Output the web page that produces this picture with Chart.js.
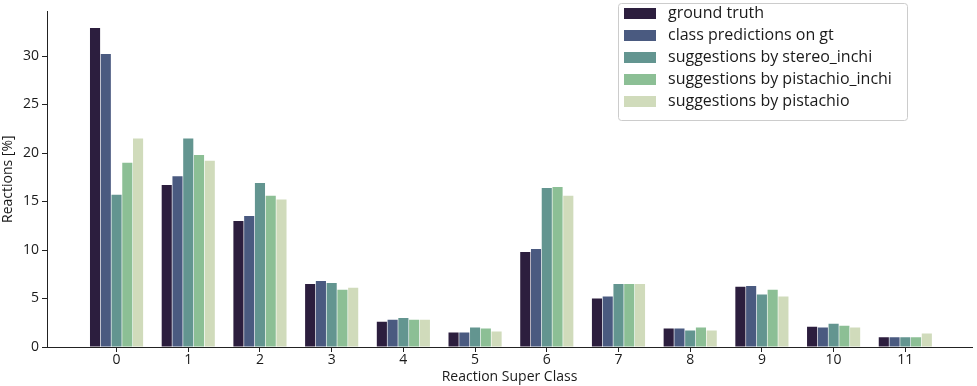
<!DOCTYPE html>
<html>
<head>
<meta charset="utf-8">
<script src="https://cdn.jsdelivr.net/npm/chart.js@4/dist/chart.umd.min.js"></script>
<style>
  html, body { margin: 0; padding: 0; background: #fff; }
  #wrap { width: 977px; height: 386px; }
</style>
</head>
<body>
<div id="wrap"><canvas id="chart"></canvas></div>
<script>
const classes = [0, 1, 2, 3, 4, 5, 6, 7, 8, 9, 10, 11];
const yTicks = [0, 5, 10, 15, 20, 25, 30];

const groundTruth    = [32.9, 16.7, 13.0, 6.5, 2.6, 1.5, 9.8, 5.0, 1.9, 6.2, 2.1, 1.0];
const classPred      = [30.2, 17.6, 13.5, 6.8, 2.8, 1.5, 10.1, 5.2, 1.9, 6.3, 2.0, 1.0];
const stereoInchi    = [15.7, 21.5, 16.9, 6.6, 3.0, 2.0, 16.4, 6.5, 1.7, 5.4, 2.4, 1.0];
const pistachioInchi = [19.0, 19.8, 15.6, 5.9, 2.8, 1.9, 16.5, 6.5, 2.0, 5.9, 2.2, 1.0];
const pistachio      = [21.5, 19.2, 15.2, 6.1, 2.8, 1.6, 15.6, 6.5, 1.7, 5.2, 2.0, 1.4];

const seriesLabels = ['ground truth', 'class predictions on gt', 'suggestions by stereo_inchi',
  'suggestions by pistachio_inchi', 'suggestions by pistachio'];
const seriesColors = ['#2c1e3e', '#4a5a80', '#639590', '#8cbf95', '#d0dbbb'];
const seriesData = [groundTruth, classPred, stereoInchi, pistachioInchi, pistachio];

const FONT = 'Open Sans';

const legendBox = {
  id: 'legendBox',
  afterDraw(chart) {
    const ctx = chart.ctx;
    const x0 = 618, y0 = 3, w = 289, h = 117;
    ctx.save();
    ctx.fillStyle = 'rgba(255,255,255,0.9)';
    ctx.strokeStyle = '#cccccc';
    ctx.lineWidth = 1;
    ctx.beginPath();
    ctx.roundRect(x0 + 0.5, y0 + 0.5, w, h, 3);
    ctx.fill();
    ctx.stroke();
    ctx.font = '16px "' + FONT + '"';
    ctx.textBaseline = 'middle';
    chart.data.datasets.forEach((ds, i) => {
      const cy = 13 + i * 22;
      ctx.fillStyle = ds.backgroundColor;
      ctx.fillRect(624, cy - 5, 32, 11);
      ctx.fillStyle = '#1a1a1a';
      ctx.fillText(ds.label, 668, cy);
    });
    ctx.restore();
  }
};

new Chart(document.getElementById('chart'), {
  type: 'bar',
  data: {
    datasets: seriesData.map((arr, i) => ({
      label: seriesLabels[i],
      data: arr.map((v, j) => ({ x: classes[j], y: v })),
      backgroundColor: seriesColors[i],
      borderWidth: 0,
      categoryPercentage: 0.75,
      barPercentage: 0.94
    }))
  },
  options: {
    responsive: true,
    maintainAspectRatio: false,
    animation: false,
    layout: { padding: { top: 8, right: 5, left: 0, bottom: 0 } },
    plugins: { legend: { display: false }, tooltip: { enabled: false } },
    scales: {
      x: {
        type: 'linear',
        offset: false,
        min: -0.97,
        max: 11.93,
        afterBuildTicks: s => { s.ticks = classes.map(v => ({ value: v })); },
        afterFit: s => { s.height = 39; },
        ticks: { color: '#1a1a1a', font: { family: FONT, size: 14 }, padding: 0, autoSkip: false, maxRotation: 0 },
        grid: { display: true, drawOnChartArea: false, tickLength: 5, tickColor: '#222', offset: false },
        border: { color: '#222', width: 1 },
        title: { display: true, text: 'Reaction Super Class', color: '#1a1a1a', font: { family: FONT, size: 14 }, padding: { top: 0, bottom: 1 } }
      },
      y: {
        min: 0,
        max: 34.6,
        afterBuildTicks: s => { s.ticks = yTicks.map(v => ({ value: v })); },
        afterFit: s => { s.width = 47; },
        ticks: { color: '#1a1a1a', font: { family: FONT, size: 14 }, padding: 3 },
        grid: { display: true, drawOnChartArea: false, tickLength: 5, tickColor: '#222' },
        border: { color: '#222', width: 1 },
        title: { display: true, text: 'Reactions [%]', color: '#1a1a1a', font: { family: FONT, size: 14 }, padding: { top: 0, bottom: 0 } }
      }
    }
  },
  plugins: [legendBox]
});
</script>
</body>
</html>
